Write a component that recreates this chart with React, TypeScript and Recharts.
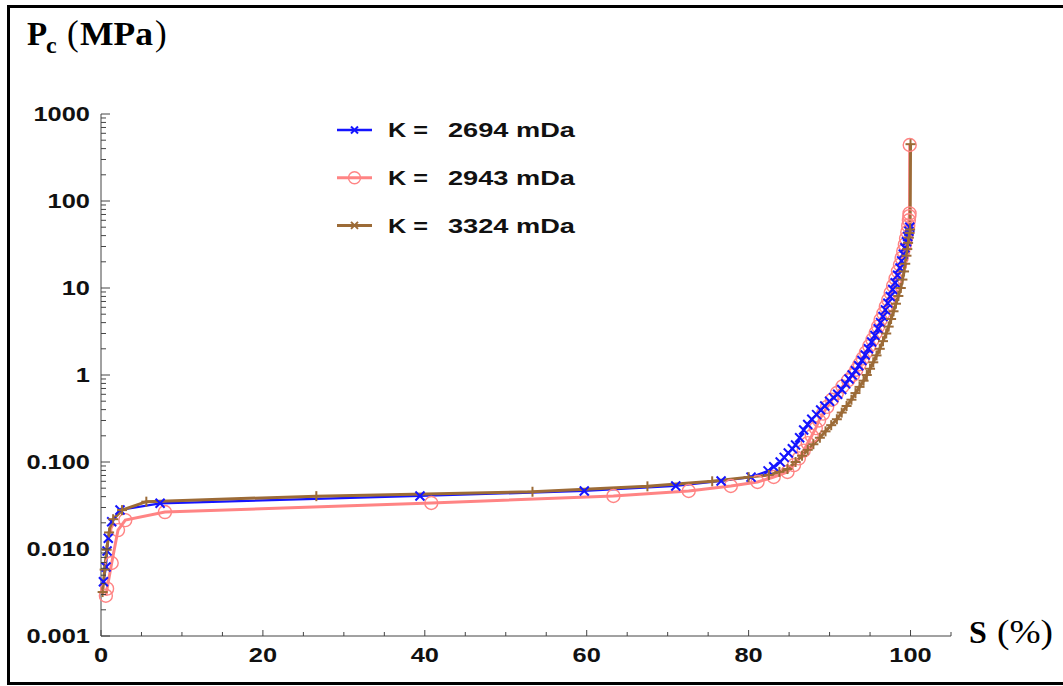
import React from 'react';
import { LineChart, Line, XAxis, YAxis, Legend } from 'recharts';

// ---------- data (S in %, Pc in MPa) ----------
const blueS = [0.3, 0.62, 0.75, 0.9, 1.32, 2.35, 7.3, 39.4, 59.7, 71.0, 76.6, 80.3, 82.4, 83.1, 83.9, 84.4, 84.9, 85.4, 85.8, 86.3, 86.8, 87.3, 87.8, 88.4, 88.9, 89.4, 90.0, 90.5, 91.0, 91.5, 92.0, 92.4, 92.8, 93.2, 93.6, 94.0, 94.4, 94.8, 95.2, 95.6, 96.0, 96.3, 96.6, 96.9, 97.2, 97.5, 97.8, 98.1, 98.4, 98.7, 98.9, 99.1, 99.3, 99.5, 99.65, 99.8, 99.9];
const blueP = [0.0042, 0.0062, 0.0095, 0.0133, 0.0206, 0.0281, 0.0335, 0.0407, 0.0464, 0.053, 0.0605, 0.067, 0.079, 0.088, 0.1, 0.113, 0.127, 0.142, 0.157, 0.19, 0.233, 0.27, 0.31, 0.35, 0.396, 0.44, 0.5, 0.55, 0.6, 0.68, 0.79, 0.9, 1.0, 1.12, 1.28, 1.47, 1.7, 2.0, 2.4, 2.85, 3.4, 4.0, 4.7, 5.6, 6.7, 8.0, 9.6, 11.5, 14, 17, 20.5, 24.5, 29, 34, 39, 45, 50];

const pinkS = [0.6, 0.75, 1.32, 2.1, 3.0, 7.9, 40.8, 63.3, 72.6, 77.8, 81.1, 83.1, 84.8, 85.6, 86.2, 86.8, 87.3, 87.8, 88.3, 88.7, 89.2, 89.7, 90.3, 90.9, 91.6, 92.3, 92.9, 93.3, 93.7, 94.1, 94.5, 94.9, 95.3, 95.7, 96.0, 96.3, 96.65, 96.95, 97.25, 97.55, 97.85, 98.15, 98.45, 98.7, 98.9, 99.1, 99.3, 99.45, 99.6, 99.72, 99.8, 99.85, 99.88, 99.9];
const pinkP = [0.0029, 0.0035, 0.0069, 0.0165, 0.0215, 0.0266, 0.0338, 0.0407, 0.0464, 0.053, 0.0589, 0.0673, 0.0767, 0.092, 0.11, 0.135, 0.165, 0.2, 0.245, 0.3, 0.36, 0.43, 0.52, 0.62, 0.74, 0.87, 1.0, 1.15, 1.33, 1.55, 1.82, 2.15, 2.55, 3.05, 3.6, 4.3, 5.1, 6.1, 7.3, 8.8, 10.6, 12.8, 15.5, 18.5, 22, 26.5, 31.5, 37, 44, 52, 60, 67, 72, 440];

const brownS = [0.2, 0.45, 0.7, 1.0, 1.5, 2.6, 5.6, 26.6, 53.3, 67.5, 75.5, 80.0, 82.5, 83.8, 84.8, 85.8, 86.6, 87.3, 88.0, 88.8, 89.5, 90.2, 90.9, 91.5, 92.1, 92.7, 93.2, 93.7, 94.2, 94.6, 95.0, 95.4, 95.8, 96.2, 96.6, 97.0, 97.3, 97.6, 97.9, 98.2, 98.5, 98.8, 99.0, 99.2, 99.35, 99.5, 99.6, 99.7, 99.8, 99.88, 99.95, 100.0];
const brownP = [0.0032, 0.0058, 0.0098, 0.0155, 0.022, 0.028, 0.035, 0.0405, 0.0455, 0.0525, 0.06, 0.067, 0.071, 0.077, 0.083, 0.1, 0.118, 0.138, 0.16, 0.19, 0.225, 0.265, 0.31, 0.37, 0.44, 0.52, 0.62, 0.73, 0.86, 1.0, 1.18, 1.4, 1.68, 2.0, 2.45, 3.0, 3.6, 4.4, 5.4, 6.6, 8.1, 10, 12.5, 15.5, 19, 23.5, 28, 33, 38, 43, 47, 450];

const seriesNames = ['K =', 'K =', 'K ='];
const seriesValues = ['2694 mDa', '2943 mDa', '3324 mDa'];

const xTicks = [0, 5, 10, 15, 20, 25, 30, 35, 40, 45, 50, 55, 60, 65, 70, 75, 80, 85, 90, 95, 100, 105];
const xMajorTicks = [0, 20, 40, 60, 80, 100];
const xTickLabels = ['0', '20', '40', '60', '80', '100'];

const yMajorTicks = [0.001, 0.01, 0.1, 1, 10, 100, 1000];
const yTickLabels = ['0.001', '0.010', '0.100', '1', '10', '100', '1000'];
const yMinorFactors = [2, 3, 4, 5, 6, 7, 8, 9];

// ---------- style ----------
const BLUE = '#1414ff';
const PINK = '#ff8484';
const BROWN = '#9c6b37';
const AXIS = '#444';
const AXIS_X = 101;
const AXIS_Y = 636;
const SANS = "'Liberation Sans', Arial, sans-serif";
const SERIF = "'Liberation Serif', 'Times New Roman', serif";

const zip = (s: number[], p: number[]) => s.map((v, i) => ({ s: v, p: p[i] }));
const blueData = zip(blueS, blueP);
const pinkData = zip(pinkS, pinkP);
const brownData = zip(brownS, brownP);

const yTicks: number[] = [];
yMajorTicks.forEach((m, i) => {
  yTicks.push(m);
  if (i < yMajorTicks.length - 1) yMinorFactors.forEach((f) => yTicks.push(+(m * f).toPrecision(6)));
});

const isMajorY = (v: number) => Math.abs(Math.log10(v) - Math.round(Math.log10(v))) < 1e-6;

const YTick = (props: any) => {
  const { y, payload } = props;
  const v = payload.value;
  const major = isMajorY(v);
  const idx = yMajorTicks.findIndex((m) => Math.abs(m - v) / m < 1e-6);
  return (
    <g>
      <line x1={AXIS_X} x2={AXIS_X + (major ? 9 : 5)} y1={y} y2={y} stroke={AXIS} strokeWidth={1} />
      {major && idx >= 0 && (
        <g transform={`translate(${AXIS_X - 11},${y})`}>
          <text transform="scale(1.27,1)" textAnchor="end" dy="0.36em" fontFamily={SANS} fontWeight="bold" fontSize={20} fill="#111">
            {yTickLabels[idx]}
          </text>
        </g>
      )}
    </g>
  );
};

const XTick = (props: any) => {
  const { x, payload } = props;
  const v = payload.value;
  const idx = xMajorTicks.indexOf(v);
  const major = idx >= 0;
  return (
    <g>
      <line x1={x} x2={x} y1={AXIS_Y} y2={AXIS_Y - (major ? 6 : 4)} stroke={AXIS} strokeWidth={1} />
      {major && (
        <g transform={`translate(${x},${AXIS_Y + 25.5})`}>
          <text transform="scale(1.27,1)" textAnchor="middle" fontFamily={SANS} fontWeight="bold" fontSize={20} fill="#111">
            {xTickLabels[idx]}
          </text>
        </g>
      )}
    </g>
  );
};

const blueDot = (props: any) => {
  const { cx, cy, index } = props;
  if (cx == null || cy == null) return <g key={`b${index}`} />;
  const h = 4.5;
  return (
    <g key={`b${index}`}>
      <line x1={cx - h} y1={cy - h} x2={cx + h} y2={cy + h} stroke={BLUE} strokeWidth={2} />
      <line x1={cx - h} y1={cy + h} x2={cx + h} y2={cy - h} stroke={BLUE} strokeWidth={2} />
    </g>
  );
};

const pinkDot = (props: any) => {
  const { cx, cy, index } = props;
  if (cx == null || cy == null) return <g key={`p${index}`} />;
  return <circle key={`p${index}`} cx={cx} cy={cy} r={6.5} fill="none" stroke={PINK} strokeWidth={1.4} />;
};

const brownDot = (props: any) => {
  const { cx, cy, index } = props;
  if (cx == null || cy == null) return <g key={`r${index}`} />;
  const h = 5;
  return (
    <g key={`r${index}`}>
      <line x1={cx - h} y1={cy} x2={cx + h} y2={cy} stroke={BROWN} strokeWidth={2} />
      <line x1={cx} y1={cy - h} x2={cx} y2={cy + h} stroke={BROWN} strokeWidth={2} />
    </g>
  );
};

const legendColors = [BLUE, PINK, BROWN];

const LegendContent = () => (
  <svg width={260} height={140} style={{ overflow: 'visible', display: 'block' }}>
    {legendColors.map((c, i) => {
      const cy = 20 + i * 47.7;
      const base = 27 + i * 48;
      return (
        <g key={i}>
          <line x1={7} x2={42} y1={cy} y2={cy} stroke={c} strokeWidth={i === 0 ? 2.5 : 3} />
          {i === 0 && (
            <g>
              <line x1={21} y1={cy - 3.5} x2={28} y2={cy + 3.5} stroke={BLUE} strokeWidth={2} />
              <line x1={21} y1={cy + 3.5} x2={28} y2={cy - 3.5} stroke={BLUE} strokeWidth={2} />
            </g>
          )}
          {i === 1 && <circle cx={24.5} cy={cy} r={6} fill="none" stroke={PINK} strokeWidth={1.4} />}
          {i === 2 && (
            <g>
              <line x1={21} y1={cy - 3.5} x2={28} y2={cy + 3.5} stroke={BROWN} strokeWidth={2} />
              <line x1={21} y1={cy + 3.5} x2={28} y2={cy - 3.5} stroke={BROWN} strokeWidth={2} />
            </g>
          )}
          <text x={58} y={base} fontFamily={SANS} fontWeight="bold" fontSize={20.5} fill="#111" textLength={40} lengthAdjust="spacingAndGlyphs">
            {seriesNames[i]}
          </text>
          <text x={118} y={base} fontFamily={SANS} fontWeight="bold" fontSize={20.5} fill="#111" textLength={127} lengthAdjust="spacingAndGlyphs">
            {seriesValues[i]}
          </text>
        </g>
      );
    })}
  </svg>
);

const YTitle = () => (
  <g>
    <text x={27} y={45} fontFamily={SERIF} fontWeight="bold" fontSize={33} fill="#000">P</text>
    <text x={46} y={53} fontFamily={SERIF} fontWeight="bold" fontSize={24} fill="#000">c</text>
    <text x={67} y={45} fontFamily={SERIF} fontSize={35} fill="#000">(</text>
    <text x={80} y={45} fontFamily={SERIF} fontWeight="bold" fontSize={33} fill="#000" textLength={73} lengthAdjust="spacingAndGlyphs">MPa</text>
    <text x={155} y={45} fontFamily={SERIF} fontSize={35} fill="#000">)</text>
  </g>
);

const XTitle = () => (
  <g>
    <text x={969} y={643} fontFamily={SERIF} fontWeight="bold" fontSize={32} fill="#000">S</text>
    <text x={997} y={643} fontFamily={SERIF} fontSize={34} fill="#000" textLength={56} lengthAdjust="spacingAndGlyphs">(%)</text>
  </g>
);

export default function App() {
  return (
    <div style={{ position: 'absolute', left: 0, top: 0, width: 1063, height: 686, overflow: 'hidden', background: '#fff' }}>
      <LineChart width={1063} height={686} margin={{ top: 114, right: 112, bottom: 0, left: 0 }}>
        <XAxis
          dataKey="s"
          type="number"
          domain={[0, 105]}
          ticks={xTicks}
          interval={0}
          height={50}
          tickSize={0}
          tickMargin={0}
          tickLine={false}
          axisLine={{ stroke: AXIS, strokeWidth: 1 }}
          tick={<XTick />}
          label={<XTitle />}
        />
        <YAxis
          type="number"
          scale="log"
          domain={[0.001, 1000]}
          allowDataOverflow
          ticks={yTicks}
          interval={0}
          width={101}
          tickSize={0}
          tickMargin={0}
          tickLine={false}
          axisLine={{ stroke: AXIS, strokeWidth: 1 }}
          tick={<YTick />}
          label={<YTitle />}
        />
        <Legend
          layout="vertical"
          align="center"
          verticalAlign="middle"
          content={<LegendContent />}
          wrapperStyle={{ position: 'absolute', left: 330, top: 110, width: 260, height: 140, margin: 0, padding: 0 }}
        />
        <Line data={pinkData} dataKey="p" type="linear" stroke={PINK} strokeWidth={3} dot={pinkDot} activeDot={false} isAnimationActive={false} />
        <Line data={blueData} dataKey="p" type="linear" stroke={BLUE} strokeWidth={2.2} dot={blueDot} activeDot={false} isAnimationActive={false} />
        <Line data={brownData} dataKey="p" type="linear" stroke={BROWN} strokeWidth={3} dot={brownDot} activeDot={false} isAnimationActive={false} />
      </LineChart>
      <div style={{ position: 'absolute', left: 7, top: 5, width: 1200, height: 674, border: '3px solid #000', pointerEvents: 'none' }} />
    </div>
  );
}
